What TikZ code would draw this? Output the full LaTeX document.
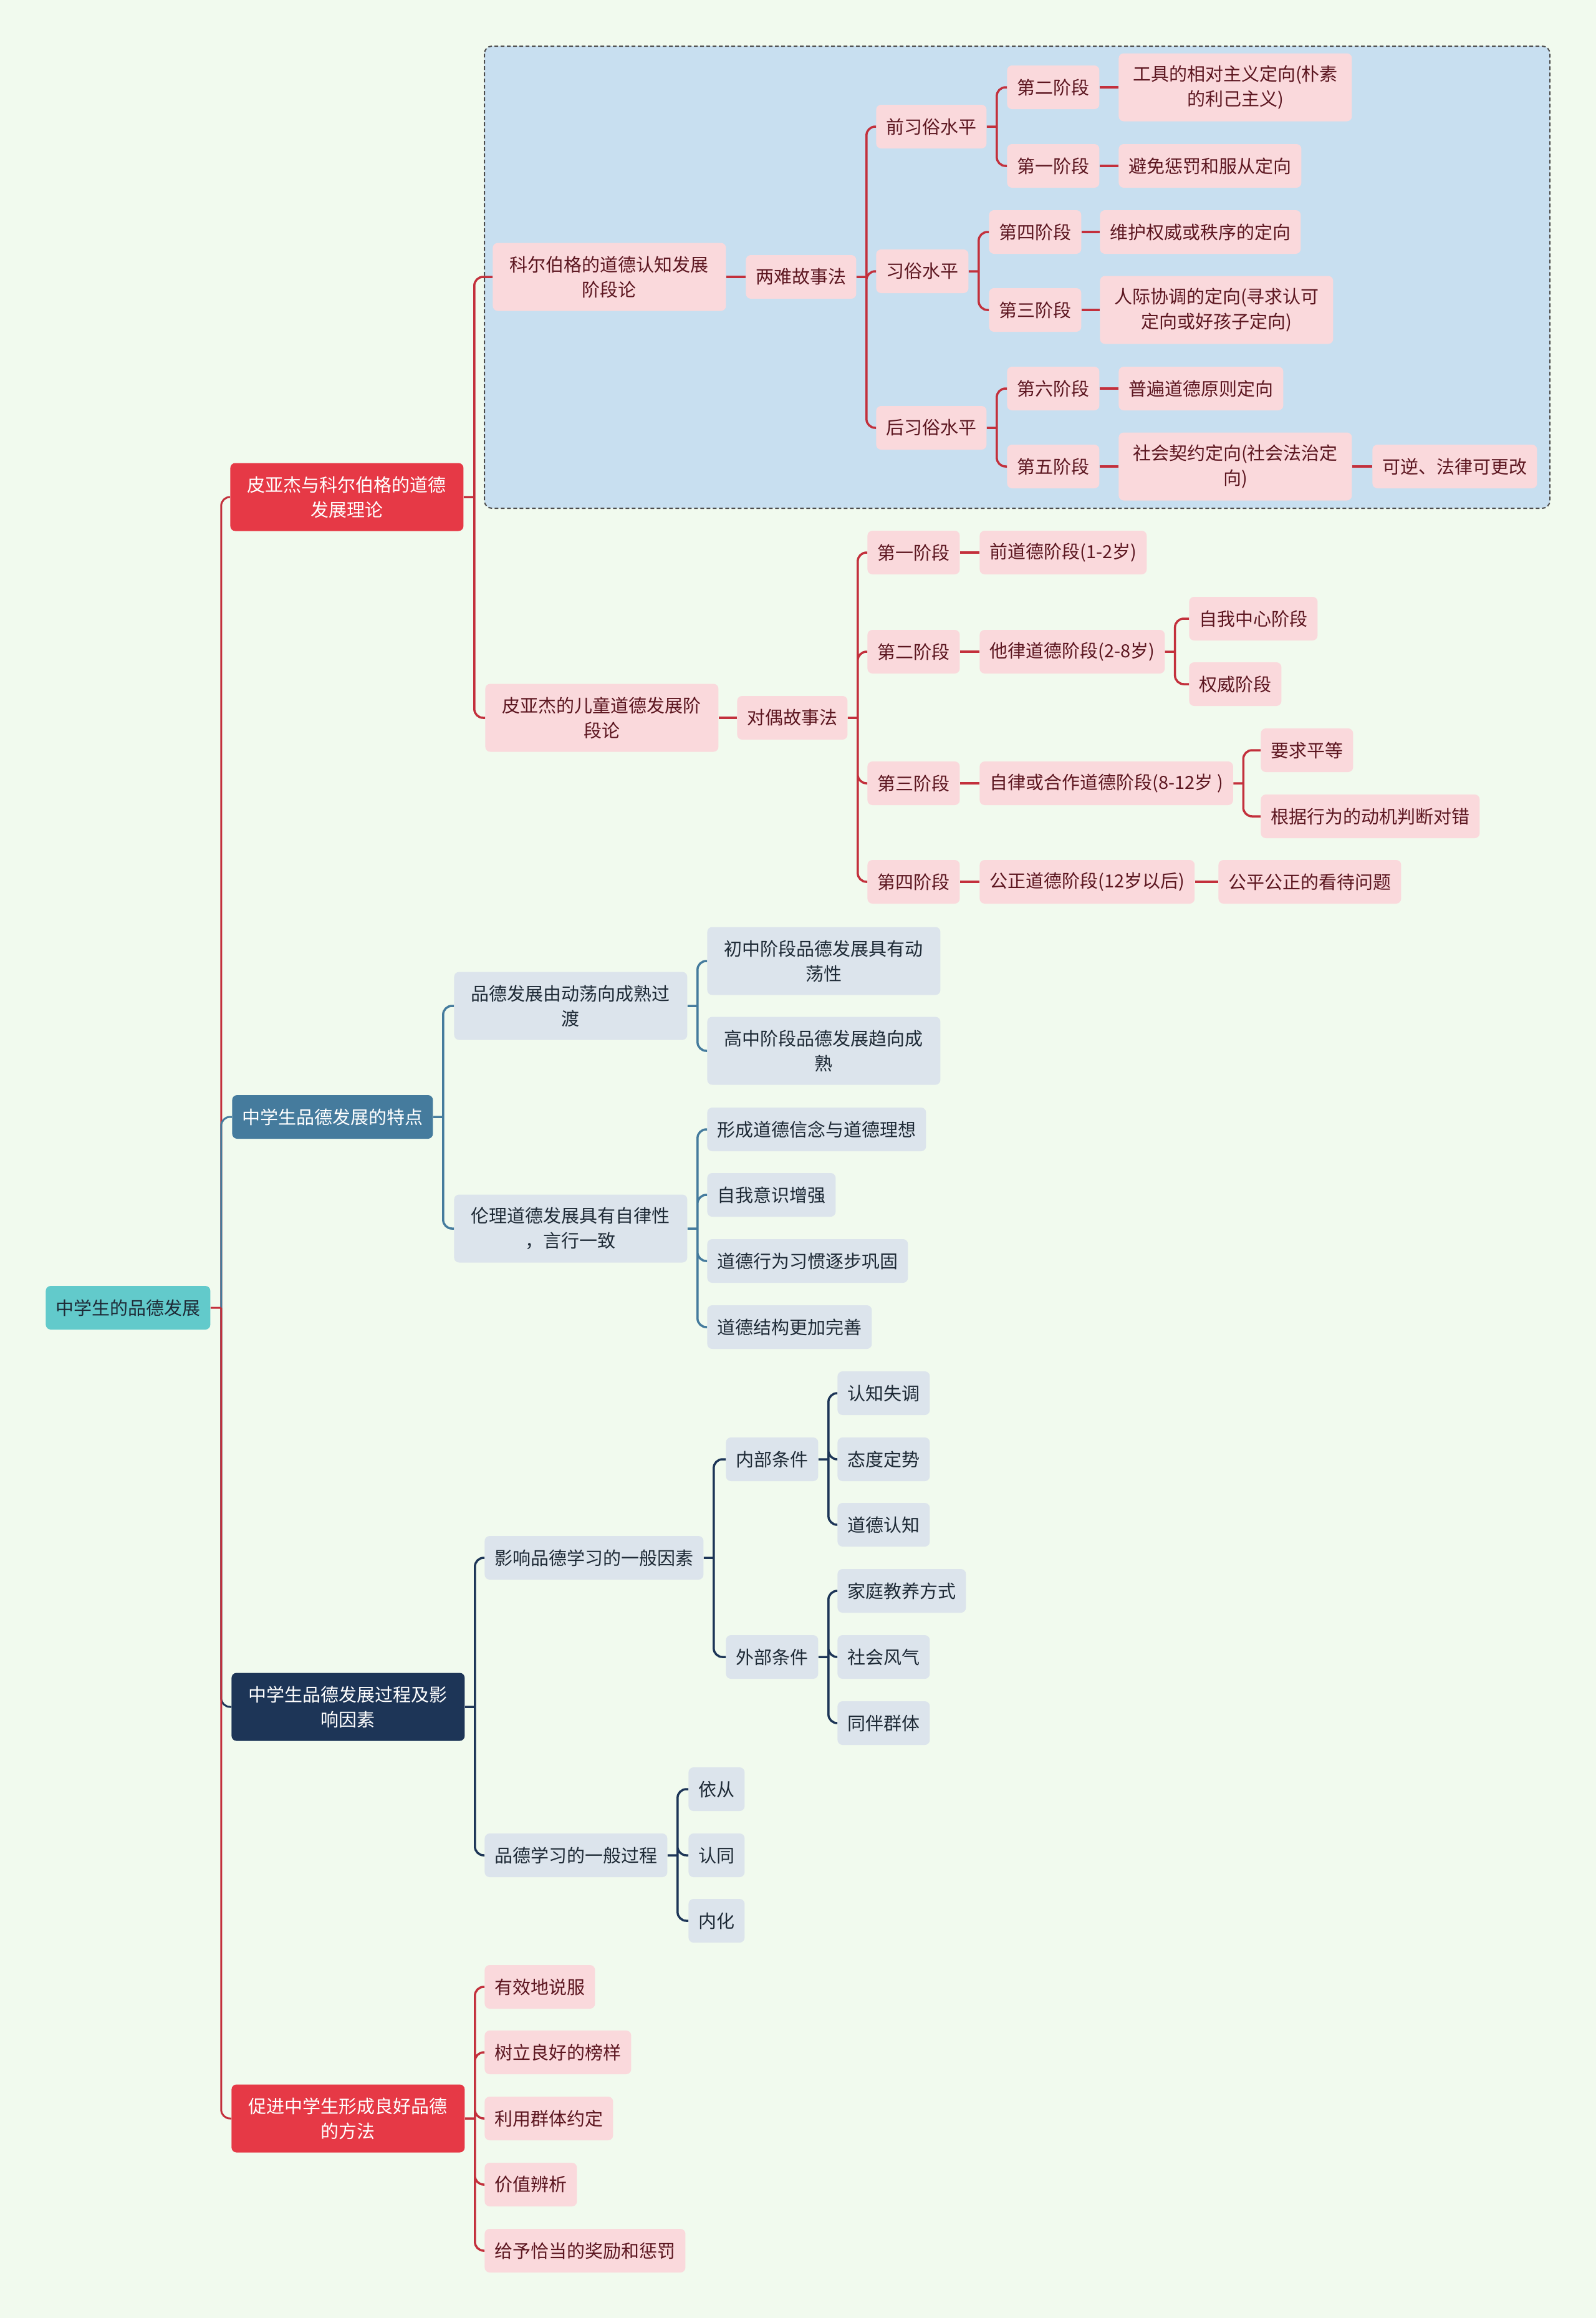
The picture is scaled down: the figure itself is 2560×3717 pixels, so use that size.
\documentclass[tikz,border=0pt]{standalone}
\usepackage{fontspec}
\newfontfamily\cjkfont{Noto Sans CJK SC}
\definecolor{map background color}{HTML}{F1FAEE}
\definecolor{root color}{HTML}{62CACB}
\definecolor{red topic color}{HTML}{E63946}
\definecolor{blue topic color}{HTML}{457B9D}
\definecolor{navy topic color}{HTML}{1D3557}
\definecolor{pink color}{HTML}{FAD9DC}
\definecolor{pink text color}{HTML}{5C1620}
\definecolor{grey color}{HTML}{DCE4EC}
\definecolor{grey text color}{HTML}{1E2A36}
\definecolor{frame color}{HTML}{C8DFF0}
\colorlet{red branch color}{red topic color!85!black}
\tikzset{
    x={0.5pt},
    y={-0.5pt},
    topic/.style={
        anchor=west,
        rounded corners={4pt},
        inner xsep={8pt}, inner ysep={0pt},
        minimum height={35pt},
        font={\cjkfont\fontsize{14.5pt}{20pt}\selectfont},
    },
    wrapped/.style={
        text width={171pt},
        align=center,
        minimum height={54.5pt},
    },
    root topic/.style={
        topic, fill=root color, text=grey text color,
    },
    main topic/.style={
        topic, fill={#1}, text=white,
    },
    pink topic/.style={
        topic, fill=pink color, text=pink text color,
    },
    grey topic/.style={
        topic, fill=grey color, text=grey text color,
    },
    branch/.style={
        draw={#1},
        line width={1.75pt},
        rounded corners={7pt},
    },
    frame/.style={
        fill=frame color, draw=black!70,
        dash pattern=on 3pt off 2pt,
        line width={1pt},
        rounded corners={6pt},
    },
}

\begin{document}
\begin{tikzpicture}
% background
\useasboundingbox (0,0) rectangle (2560,3717);
\fill[map background color] (0,0) rectangle (2560,3717);
\path[frame] (777,74) rectangle (2486,815);
% topics
\node[root topic] (root) at (73,2097) {中学生的品德发展};
\node[main topic={red topic color}, wrapped] (theory) at (369,797) {皮亚杰与科尔伯格的道德\\发展理论};
\node[main topic={blue topic color}] (traits) at (372,1791) {中学生品德发展的特点};
\node[main topic={navy topic color}, wrapped] (process) at (371,2737) {中学生品德发展过程及影\\响因素};
\node[main topic={red topic color}, wrapped] (methods) at (371,3397) {促进中学生形成良好品德\\的方法};
% kohlberg
\node[pink topic, wrapped] (kohlberg) at (790,444) {科尔伯格的道德认知发展\\阶段论};
\node[pink topic] (dilemma) at (1196,444) {两难故事法};
\node[pink topic] (preconv) at (1405,203) {前习俗水平};
\node[pink topic] (conv) at (1405,435) {习俗水平};
\node[pink topic] (postconv) at (1405,686) {后习俗水平};
\node[pink topic] (kTwo) at (1615,140) {第二阶段};
\node[pink topic, wrapped] (kTwoText) at (1794,140) {工具的相对主义定向(朴素\\的利己主义)};
\node[pink topic] (kOne) at (1615,266) {第一阶段};
\node[pink topic] (kOneText) at (1794,266) {避免惩罚和服从定向};
\node[pink topic] (kFour) at (1586,372) {第四阶段};
\node[pink topic] (kFourText) at (1764,372) {维护权威或秩序的定向};
\node[pink topic] (kThree) at (1586,497) {第三阶段};
\node[pink topic, wrapped] (kThreeText) at (1764,497) {人际协调的定向(寻求认可\\定向或好孩子定向)};
\node[pink topic] (kSix) at (1615,623) {第六阶段};
\node[pink topic] (kSixText) at (1794,623) {普遍道德原则定向};
\node[pink topic] (kFive) at (1615,748) {第五阶段};
\node[pink topic, wrapped] (kFiveText) at (1794,748) {社会契约定向(社会法治定\\向)};
\node[pink topic] (kFiveNote) at (2201,748) {可逆、法律可更改};
% piaget
\node[pink topic, wrapped] (piaget) at (778,1151) {皮亚杰的儿童道德发展阶\\段论};
\node[pink topic] (pairs) at (1182,1151) {对偶故事法};
\node[pink topic] (pOne) at (1391,886) {第一阶段};
\node[pink topic] (pOneText) at (1571,886) {前道德阶段(1-2岁)};
\node[pink topic] (pTwo) at (1391,1045) {第二阶段};
\node[pink topic] (pTwoText) at (1571,1045) {他律道德阶段(2-8岁)};
\node[pink topic] (egocentric) at (1907,992) {自我中心阶段};
\node[pink topic] (authority) at (1907,1097) {权威阶段};
\node[pink topic] (pThree) at (1391,1256) {第三阶段};
\node[pink topic] (pThreeText) at (1571,1256) {自律或合作道德阶段(8-12岁 )};
\node[pink topic] (equality) at (2022,1203) {要求平等};
\node[pink topic] (motive) at (2022,1309) {根据行为的动机判断对错};
\node[pink topic] (pFour) at (1391,1414) {第四阶段};
\node[pink topic] (pFourText) at (1571,1414) {公正道德阶段(12岁以后)};
\node[pink topic] (fairness) at (1954,1414) {公平公正的看待问题};
% traits
\node[grey topic, wrapped] (swing) at (728,1613) {品德发展由动荡向成熟过\\渡};
\node[grey topic, wrapped] (autonomy) at (728,1970) {伦理道德发展具有自律性\\，言行一致};
\node[grey topic, wrapped] (junior) at (1134,1541) {初中阶段品德发展具有动\\荡性};
\node[grey topic, wrapped] (senior) at (1134,1685) {高中阶段品德发展趋向成\\熟};
\node[grey topic] (belief) at (1134,1811) {形成道德信念与道德理想};
\node[grey topic] (selfaware) at (1134,1916) {自我意识增强};
\node[grey topic] (habit) at (1134,2022) {道德行为习惯逐步巩固};
\node[grey topic] (structure) at (1134,2128) {道德结构更加完善};
% process
\node[grey topic] (factors) at (777,2498) {影响品德学习的一般因素};
\node[grey topic] (inner) at (1164,2340) {内部条件};
\node[grey topic] (outer) at (1164,2657) {外部条件};
\node[grey topic] (dissonance) at (1343,2234) {认知失调};
\node[grey topic] (attitude) at (1343,2340) {态度定势};
\node[grey topic] (cognition) at (1343,2445) {道德认知};
\node[grey topic] (family) at (1343,2551) {家庭教养方式};
\node[grey topic] (climate) at (1343,2657) {社会风气};
\node[grey topic] (peers) at (1343,2763) {同伴群体};
\node[grey topic] (learning) at (777,2975) {品德学习的一般过程};
\node[grey topic] (comply) at (1104,2869) {依从};
\node[grey topic] (identify) at (1104,2975) {认同};
\node[grey topic] (internal) at (1104,3080) {内化};
% methods
\node[pink topic] (persuade) at (777,3186) {有效地说服};
\node[pink topic] (model) at (777,3291) {树立良好的榜样};
\node[pink topic] (group) at (777,3397) {利用群体约定};
\node[pink topic] (values) at (777,3503) {价值辨析};
\node[pink topic] (reward) at (777,3609) {给予恰当的奖励和惩罚};
% branches from root
\draw[branch={red branch color}, line width={1.5pt}] (root.east) ++(17,0) |- (theory.west);
\draw[branch={blue topic color}, line width={1.5pt}] (root.east) ++(17,0) |- (traits.west);
\draw[branch={navy topic color}, line width={1.5pt}] (root.east) ++(17,0) |- (process.west);
\draw[branch={red branch color}, line width={1.5pt}] (root.east) -- ++(17,0) (root.east) ++(17,0) |- (methods.west);
% red branches
\draw[branch={red branch color}] (theory.east) -- ++(17,0) (theory.east) ++(17,0) |- (kohlberg.west) (theory.east) ++(17,0) |- (piaget.west);
\draw[branch={red branch color}] (kohlberg) -- (dilemma);
\draw[branch={red branch color}] (dilemma.east) -- ++(16,0) (dilemma.east) ++(16,0) |- (preconv.west) (dilemma.east) ++(16,0) |- (conv.west) (dilemma.east) ++(16,0) |- (postconv.west);
\draw[branch={red branch color}] (preconv.east) -- ++(16,0) (preconv.east) ++(16,0) |- (kTwo.west) (preconv.east) ++(16,0) |- (kOne.west);
\draw[branch={red branch color}] (conv.east) -- ++(16,0) (conv.east) ++(16,0) |- (kFour.west) (conv.east) ++(16,0) |- (kThree.west);
\draw[branch={red branch color}] (postconv.east) -- ++(16,0) (postconv.east) ++(16,0) |- (kSix.west) (postconv.east) ++(16,0) |- (kFive.west);
\draw[branch={red branch color}] (kTwo) -- (kTwoText);
\draw[branch={red branch color}] (kOne) -- (kOneText);
\draw[branch={red branch color}] (kFour) -- (kFourText);
\draw[branch={red branch color}] (kThree) -- (kThreeText);
\draw[branch={red branch color}] (kSix) -- (kSixText);
\draw[branch={red branch color}] (kFive) -- (kFiveText);
\draw[branch={red branch color}] (kFiveText) -- (kFiveNote);
\draw[branch={red branch color}] (piaget) -- (pairs);
\draw[branch={red branch color}] (pairs.east) -- ++(16,0) (pairs.east) ++(16,0) |- (pOne.west) (pairs.east) ++(16,0) |- (pTwo.west) (pairs.east) ++(16,0) |- (pThree.west) (pairs.east) ++(16,0) |- (pFour.west);
\draw[branch={red branch color}] (pOne) -- (pOneText);
\draw[branch={red branch color}] (pTwo) -- (pTwoText);
\draw[branch={red branch color}] (pThree) -- (pThreeText);
\draw[branch={red branch color}] (pFour) -- (pFourText);
\draw[branch={red branch color}] (pFourText) -- (fairness);
\draw[branch={red branch color}] (pTwoText.east) -- ++(16,0) (pTwoText.east) ++(16,0) |- (egocentric.west) (pTwoText.east) ++(16,0) |- (authority.west);
\draw[branch={red branch color}] (pThreeText.east) -- ++(16,0) (pThreeText.east) ++(16,0) |- (equality.west) (pThreeText.east) ++(16,0) |- (motive.west);
\draw[branch={red branch color}] (methods.east) -- ++(16,0) (methods.east) ++(16,0) |- (persuade.west) (methods.east) ++(16,0) |- (model.west) (methods.east) ++(16,0) |- (group.west) (methods.east) ++(16,0) |- (values.west) (methods.east) ++(16,0) |- (reward.west);
% blue branches
\draw[branch={blue topic color}] (traits.east) -- ++(16,0) (traits.east) ++(16,0) |- (swing.west) (traits.east) ++(16,0) |- (autonomy.west);
\draw[branch={blue topic color}] (swing.east) -- ++(16,0) (swing.east) ++(16,0) |- (junior.west) (swing.east) ++(16,0) |- (senior.west);
\draw[branch={blue topic color}] (autonomy.east) -- ++(16,0) (autonomy.east) ++(16,0) |- (belief.west) (autonomy.east) ++(16,0) |- (selfaware.west) (autonomy.east) ++(16,0) |- (habit.west) (autonomy.east) ++(16,0) |- (structure.west);
% navy branches
\draw[branch={navy topic color}] (process.east) -- ++(16,0) (process.east) ++(16,0) |- (factors.west) (process.east) ++(16,0) |- (learning.west);
\draw[branch={navy topic color}] (factors.east) -- ++(16,0) (factors.east) ++(16,0) |- (inner.west) (factors.east) ++(16,0) |- (outer.west);
\draw[branch={navy topic color}] (inner.east) -- ++(16,0) (inner.east) ++(16,0) |- (dissonance.west) (inner.east) ++(16,0) |- (attitude.west) (inner.east) ++(16,0) |- (cognition.west);
\draw[branch={navy topic color}] (outer.east) -- ++(16,0) (outer.east) ++(16,0) |- (family.west) (outer.east) ++(16,0) |- (climate.west) (outer.east) ++(16,0) |- (peers.west);
\draw[branch={navy topic color}] (learning.east) -- ++(16,0) (learning.east) ++(16,0) |- (comply.west) (learning.east) ++(16,0) |- (identify.west) (learning.east) ++(16,0) |- (internal.west);
\end{tikzpicture}
\end{document}
